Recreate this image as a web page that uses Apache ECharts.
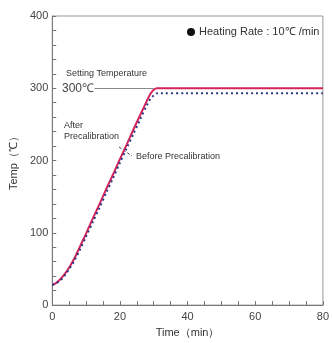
<!DOCTYPE html>
<html><head><meta charset="utf-8">
<script src="https://cdn.jsdelivr.net/npm/echarts@6/dist/echarts.min.js"></script>
<style>html,body{margin:0;padding:0;background:#fff}#c{width:332px;height:343px}</style>
</head><body><div id="c"></div>
<script>
var timeAfter = [0, 1, 2, 3, 4, 5, 6, 7, 8, 10, 12, 14, 16, 18, 20, 22, 24, 26, 28, 29, 30, 31, 32, 40, 50, 60, 70, 80];
var tempAfter = [28, 30, 34, 39, 45, 52, 60, 69, 79, 99, 120, 140, 161, 181, 202, 222, 243, 263, 283, 292, 298, 300, 300, 300, 300, 300, 300, 300];
var timeBefore = [0, 1, 2, 3, 4, 5, 6, 7, 8, 10, 12, 14, 16, 18, 20, 22, 24, 26, 28, 29, 30, 31, 32, 40, 50, 60, 70, 80];
var tempBefore = [28, 30, 33, 37, 43, 50, 57, 66, 75, 95, 115, 135, 156, 176, 197, 217, 237, 257, 277, 285, 290, 293, 293, 293, 293, 293, 293, 293];
var xTicks = [0, 20, 40, 60, 80];
var yTicks = [0, 100, 200, 300, 400];
var settingTemp = 300;

function pairs(xs, ys) { return xs.map(function (x, i) { return [x, ys[i]]; }); }
var FONT = '"Liberation Sans Narrow","Liberation Sans",Arial,sans-serif';
var chart = echarts.init(document.getElementById('c'));
chart.setOption({
  animation: false,
  grid: { left: 51, right: 8, top: 16, bottom: 30, show: true, borderColor: '#999', borderWidth: 1 },
  xAxis: {
    type: 'value', min: xTicks[0], max: xTicks[xTicks.length - 1], interval: 20,
    name: 'Time（min）', nameLocation: 'middle', nameGap: 21,
    nameTextStyle: { fontFamily: FONT, fontSize: 11, color: '#333' },
    axisLine: { lineStyle: { color: '#777' } },
    axisTick: { inside: true, length: 4, interval: 0, lineStyle: { color: '#777' } },
    minorTick: { show: true, splitNumber: 4, length: 4, lineStyle: { color: '#777' } },
    axisLabel: { fontFamily: FONT, fontSize: 11, color: '#444', margin: 6 },
    splitLine: { show: false }
  },
  yAxis: {
    type: 'value', min: yTicks[0], max: yTicks[yTicks.length - 1], interval: 100,
    name: 'Temp（℃）', nameLocation: 'middle', nameGap: 33, nameRotate: 90,
    nameTextStyle: { fontFamily: FONT, fontSize: 11, color: '#333' },
    axisLine: { show: true, lineStyle: { color: '#777' } },
    axisTick: { show: true, inside: true, length: 4, lineStyle: { color: '#777' } },
    minorTick: { show: true, splitNumber: 5, length: 4, lineStyle: { color: '#777' } },
    axisLabel: { fontFamily: FONT, fontSize: 11, color: '#444', margin: 4 },
    splitLine: { show: false }
  },
  series: [
    {
      name: 'After Precalibration', type: 'line', data: pairs(timeAfter, tempAfter),
      showSymbol: false, smooth: 0.3, lineStyle: { color: '#d4245a', width: 2 },
      markLine: {
        silent: true, symbol: ['none', 'none'], label: { show: false },
        lineStyle: { color: '#888', width: 1, type: 'solid' },
        data: [[{ coord: [12.5, settingTemp] }, { coord: [30, settingTemp] }]]
      },
      z: 2
    },
    {
      name: 'Before Precalibration', type: 'line', data: pairs(timeBefore, tempBefore),
      showSymbol: false, smooth: 0.3, lineStyle: { color: '#2b3a86', width: 2, type: [2, 3] },
      z: 3
    }
  ],
  graphic: [
    { type: 'text', left: 66, top: 69, style: { text: 'Setting Temperature', font: '9px ' + FONT, fill: '#333' } },
    { type: 'text', left: 62, top: 83, style: { text: '300℃', font: '12px ' + FONT, fill: '#444' } },
    { type: 'text', left: 64, top: 120, style: { text: 'After\nPrecalibration', font: '9px ' + FONT, fill: '#333', lineHeight: 11 } },
    { type: 'text', left: 136, top: 152, style: { text: 'Before Precalibration', font: '9px ' + FONT, fill: '#333' } },
    { type: 'line', shape: { x1: 119, y1: 147, x2: 132, y2: 156 }, style: { stroke: '#444', lineWidth: 1, lineDash: [3, 2] } },
    { type: 'circle', shape: { cx: 191, cy: 32, r: 4 }, style: { fill: '#111' } },
    { type: 'text', left: 199, top: 26, style: { text: 'Heating Rate : 10℃ /min', font: '11px ' + FONT, fill: '#333' } }
  ]
});
</script></body></html>
